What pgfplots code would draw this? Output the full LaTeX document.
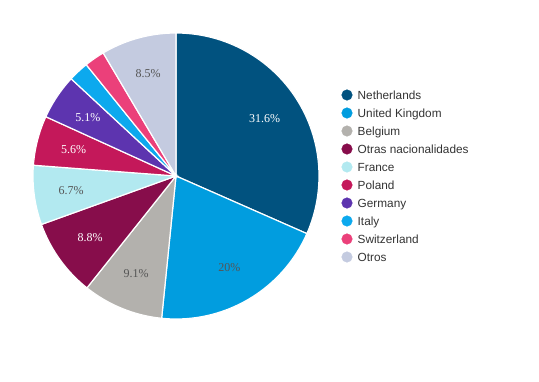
\documentclass[border=0pt]{standalone}
\usepackage{pgfplots}
\pgfplotsset{compat=1.18}
\usepgfplotslibrary{polar}
\usepackage{fontspec}
\setmainfont{Liberation Sans}
\newfontfamily\labfont{Liberation Serif}
\definecolor{cNL}{HTML}{01527F}
\definecolor{cUK}{HTML}{019DDF}
\definecolor{cBE}{HTML}{B3B1AD}
\definecolor{cON}{HTML}{870D4B}
\definecolor{cFR}{HTML}{B2E9F0}
\definecolor{cPL}{HTML}{C4185A}
\definecolor{cDE}{HTML}{5D34AF}
\definecolor{cIT}{HTML}{0CA9EE}
\definecolor{cCH}{HTML}{EB407A}
\definecolor{cOT}{HTML}{C4CBE0}
\definecolor{labdark}{HTML}{555555}
\definecolor{legtxt}{HTML}{333333}
\begin{document}
\begin{tikzpicture}
\path[use as bounding box] (0,0) rectangle (539pt,381pt);
\begin{polaraxis}[
  at={(176pt,205pt)}, anchor=center,
  scale only axis, width=286pt, height=286pt,
  hide axis, ymin=0, ymax=1,
  clip=false,
]
% values (percent): NL 31.6, UK 20, BE 9.1, ON 8.8, FR 6.7, PL 5.6, DE 5.1, IT 2.3, CH 2.3, OT 8.5
\addplot[fill=cNL, draw=white, line width=1.2pt, domain={90-3.6*31.6}:90, samples=90] {1} -- (axis cs:0,0) -- cycle;
\addplot[fill=cUK, draw=white, line width=1.2pt, domain={90-3.6*51.6}:{90-3.6*31.6}, samples=60] {1} -- (axis cs:0,0) -- cycle;
\addplot[fill=cBE, draw=white, line width=1.2pt, domain={90-3.6*60.7}:{90-3.6*51.6}, samples=30] {1} -- (axis cs:0,0) -- cycle;
\addplot[fill=cON, draw=white, line width=1.2pt, domain={90-3.6*69.5}:{90-3.6*60.7}, samples=30] {1} -- (axis cs:0,0) -- cycle;
\addplot[fill=cFR, draw=white, line width=1.2pt, domain={90-3.6*76.2}:{90-3.6*69.5}, samples=25] {1} -- (axis cs:0,0) -- cycle;
\addplot[fill=cPL, draw=white, line width=1.2pt, domain={90-3.6*81.8}:{90-3.6*76.2}, samples=20] {1} -- (axis cs:0,0) -- cycle;
\addplot[fill=cDE, draw=white, line width=1.2pt, domain={90-3.6*86.9}:{90-3.6*81.8}, samples=20] {1} -- (axis cs:0,0) -- cycle;
\addplot[fill=cIT, draw=white, line width=1.2pt, domain={90-3.6*89.2}:{90-3.6*86.9}, samples=10] {1} -- (axis cs:0,0) -- cycle;
\addplot[fill=cCH, draw=white, line width=1.2pt, domain={90-3.6*91.5}:{90-3.6*89.2}, samples=10] {1} -- (axis cs:0,0) -- cycle;
\addplot[fill=cOT, draw=white, line width=1.2pt, domain={90-3.6*100}:{90-3.6*91.5}, samples=30] {1} -- (axis cs:0,0) -- cycle;
% labels
\begin{scope}[every node/.style={font=\labfont\fontsize{12}{14}\selectfont}]
\node[white] at (axis cs:{90-3.6*15.8},0.74) {31.6\%};
\node[labdark] at (axis cs:{90-3.6*41.6},0.74) {20\%};
\node[labdark] at (axis cs:{90-3.6*56.15},0.74) {9.1\%};
\node[white] at (axis cs:{90-3.6*65.1},0.74) {8.8\%};
\node[labdark] at (axis cs:{90-3.6*72.85},0.74) {6.7\%};
\node[white] at (axis cs:{90-3.6*79.0},0.74) {5.6\%};
\node[white] at (axis cs:{90-3.6*84.35},0.74) {5.1\%};
\node[labdark] at (axis cs:{90-3.6*95.75},0.74) {8.5\%};
\end{scope}
\end{polaraxis}
% legend as a separate axis
\begin{axis}[
  at={(347pt,124pt)}, anchor=south west,
  scale only axis, width=100pt, height=162pt,
  hide axis, xmin=0, xmax=1, ymin=0, ymax=9, clip=false,
  every axis plot/.append style={only marks, mark=*, mark size=5.3pt},
]
\addplot[color=cNL] coordinates {(0,9)};
\addplot[color=cUK] coordinates {(0,8)};
\addplot[color=cBE] coordinates {(0,7)};
\addplot[color=cON] coordinates {(0,6)};
\addplot[color=cFR] coordinates {(0,5)};
\addplot[color=cPL] coordinates {(0,4)};
\addplot[color=cDE] coordinates {(0,3)};
\addplot[color=cIT] coordinates {(0,2)};
\addplot[color=cCH] coordinates {(0,1)};
\addplot[color=cOT] coordinates {(0,0)};
\begin{scope}[every node/.style={anchor=base west, inner sep=0pt, xshift=10.5pt, yshift=-4.2pt, text=legtxt, font=\fontsize{11.8}{14}\selectfont}]
\node at (axis cs:0,9) {Netherlands};
\node at (axis cs:0,8) {United Kingdom};
\node at (axis cs:0,7) {Belgium};
\node at (axis cs:0,6) {Otras nacionalidades};
\node at (axis cs:0,5) {France};
\node at (axis cs:0,4) {Poland};
\node at (axis cs:0,3) {Germany};
\node at (axis cs:0,2) {Italy};
\node at (axis cs:0,1) {Switzerland};
\node at (axis cs:0,0) {Otros};
\end{scope}
\end{axis}
\end{tikzpicture}
\end{document}
